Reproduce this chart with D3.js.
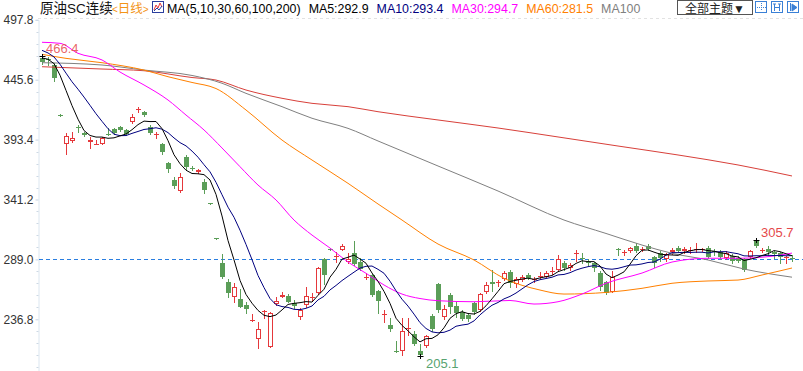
<!DOCTYPE html>
<html>
<head>
<meta charset="utf-8">
<script src="https://cdn.jsdelivr.net/npm/d3@7"></script>
<style>
  body { margin: 0; background: #fff; }
  svg { display: block; font-family: "Liberation Sans", Arial, "Noto Sans CJK SC", sans-serif; }
</style>
</head>
<body>
<svg id="chart" width="803" height="371"></svg>
<script>
// ---- data ----
const yTicks = [497.8, 445.6, 393.4, 341.2, 289.0, 236.8];

// closes before the first visible day (only used to start MA5 / MA10)
const priorCloses = [485, 482, 478, 474, 470, 468, 466, 465, 463];

const opens = [464.8,463.3,458.4,415.2,389.8,391.9,404.3,399.4,391.0,389.4,
  389.8,398.2,402.6,404.6,401.8,409.0,419.5,417.7,404.6,397.8,
  389.3,372.7,358.2,348.6,378.5,369.0,365.5,356.7,338.0,307.7,
  285.6,269.1,256.5,254.5,249.3,235.3,219.4,243.5,212.4,250.0,
  256.3,257.4,251.0,239.1,249.3,255.2,259.4,289.1,298.0,291.0,
  297.2,287.0,294.6,287.0,272.8,275.4,261.5,240.3,231.9,209.2,
  209.1,228.7,223.9,208.9,213.8,239.7,267.5,238.8,257.9,248.7,
  243.4,240.5,250.7,244.9,260.9,269.6,268.3,271.7,278.3,267.6,
  271.1,275.4,271.3,274.3,274.0,278.0,279.8,285.6,281.2,294.1,
  290.3,287.0,285.6,276.9,269.6,260.9,297.7,294.7,296.3,301.0,
  297.5,301.0,291.3,294.3,289.1,295.2,298.7,296.3,297.0,297.8,
  297.0,298.7,296.0,295.7,290.0,292.2,290.5,289.5,291.1,305.5,
  296.3,298.0,295.2,294.3,289.8,289.8];

const highs = [466.4,465.0,460.0,415.5,398.9,399.8,406.5,400.0,395.9,393.0,
  396.0,403.2,403.5,405.5,403.0,415.7,421.8,418.5,406.0,400.3,
  390.5,374.0,361.0,364.0,380.0,370.0,368.0,359.5,338.5,308.0,
  293.5,271.7,268.2,263.0,251.6,241.2,234.7,245.0,243.4,256.5,
  261.0,259.0,254.0,246.9,264.7,259.4,282.0,290.0,298.5,295.7,
  302.4,294.3,305.3,290.0,276.9,276.0,262.5,244.9,237.7,217.6,
  237.7,237.7,226.5,215.2,223.5,241.0,268.5,249.3,259.5,251.5,
  245.0,242.0,252.0,260.0,269.6,279.7,271.0,278.5,279.7,273.5,
  275.0,277.5,274.0,278.0,279.0,282.0,292.5,288.0,286.0,297.5,
  294.5,289.0,287.0,279.0,270.5,279.0,299.2,297.0,300.0,303.0,
  300.0,302.0,292.0,296.0,295.0,298.5,300.5,299.5,299.5,303.0,
  299.0,300.5,298.0,297.0,296.0,293.5,292.0,290.0,297.5,305.7,
  298.5,301.0,296.5,295.5,292.0,292.5];

const lows = [459.0,458.5,444.5,414.0,380.6,391.5,400.0,396.5,386.3,389.4,
  389.5,397.8,398.0,400.5,397.0,408.0,417.7,414.0,398.5,395.0,
  381.0,365.5,351.0,348.0,367.5,366.5,364.0,347.0,337.0,306.5,
  273.0,256.5,251.6,247.5,242.0,235.3,212.0,237.5,212.4,249.5,
  256.0,251.5,246.5,236.9,247.8,253.6,259.0,267.6,297.0,287.0,
  297.0,286.0,284.0,280.0,271.9,257.0,242.6,234.7,226.6,208.5,
  205.8,223.0,214.5,205.1,213.0,227.0,243.4,236.8,242.0,238.8,
  236.0,235.5,241.5,244.0,260.0,261.5,265.5,271.0,264.7,265.0,
  270.0,271.5,269.5,273.0,273.5,276.0,279.0,279.5,280.0,288.0,
  286.0,284.5,279.0,262.0,258.5,260.5,293.0,293.0,295.5,295.5,
  296.0,297.0,282.0,288.0,288.0,294.0,295.5,295.0,295.0,295.5,
  296.0,290.0,293.0,289.0,289.0,286.0,286.5,279.0,290.0,299.5,
  295.5,293.0,290.0,286.0,285.5,288.0];

const closes = [460.8,462.5,446.8,414.5,396.8,394.5,403.3,397.4,393.0,389.8,
  394.5,398.0,399.4,401.5,398.0,413.3,420.0,414.8,399.4,398.3,
  382.3,367.8,353.2,360.5,369.8,368.0,366.5,349.5,337.3,307.0,
  274.0,259.5,265.2,247.8,245.8,235.8,228.1,244.0,242.0,252.7,
  258.0,252.1,248.7,244.9,257.4,256.0,281.2,275.4,297.5,291.6,
  300.7,289.1,284.8,280.4,273.4,258.0,252.7,241.0,228.3,208.7,
  226.6,229.3,214.9,206.0,222.5,228.1,244.9,245.5,247.3,242.4,
  237.1,236.8,243.4,258.8,266.7,267.6,269.0,276.9,268.7,271.7,
  273.4,272.5,271.9,274.9,276.9,278.6,289.1,281.2,284.1,294.6,
  289.8,285.6,281.2,265.2,259.5,274.0,296.8,295.2,298.7,296.3,
  298.0,298.1,285.6,290.0,293.4,297.2,296.3,298.1,297.5,298.3,
  298.0,291.4,295.6,290.8,294.3,287.6,287.6,279.8,296.3,300.7,
  297.5,295.5,293.5,291.5,291.5,289.0];

// long moving averages need history outside the window: read at sample days
const ma30Idx = [0,3,6,10,13,17,21,24,27,30,33,36,39,42,45,48,51,54,57,60,63,66,72,78,82,86,90,94,100,105,111,116,122,125];
const ma30Val = [478.2,477.3,468.6,462.8,452.3,441.0,427.9,414.8,401.8,386.1,369.8,353.8,340.8,323.3,310.2,298.9,286.7,276.9,266.7,258.8,254.9,253.0,252.1,253.2,250.1,252.1,258.8,268.2,277.1,286.7,290.0,290.0,292.0,294.5];
const ma60Idx = [0,4,10,17,21,25,29,34,40,45,51,56,60,66,72,77,83,87,94,100,105,111,116,120,125];
const ma60Val = [467.7,464.2,460.4,454.0,448.2,443.2,437.9,419.2,393.0,375.6,355.3,337.3,323.3,302.4,288.5,272.5,262.3,258.8,260.2,263.8,268.2,270.2,271.0,275.4,281.5];
const ma100Idx = [0,10,17,25,30,34,40,45,51,56,66,76,87,94,100,105,111,117,125];
const ma100Val = [460.4,458.4,454.0,449.3,442.5,433.7,422.1,412.0,403.2,392.2,370.4,348.6,323.3,311.6,301.5,294.3,288.5,280.6,273.5];
const ma200Idx = [0,10,17,25,29,34,40,45,51,56,66,76,86,96,106,116,125];
const ma200Val = [456.9,454.9,453.4,447.5,445.3,436.6,429.4,425.0,422.1,417.7,410.5,403.5,395.7,387.8,380.0,371.3,361.7];

const titleText = "原油SC连续";
const periodText = "日线";
const maLegend = [
  {text: "MA(5,10,30,60,100,200)", color: "#000"},
  {text: "MA5:292.9", color: "#000"},
  {text: "MA10:293.4", color: "#00007f"},
  {text: "MA30:294.7", color: "#ff00ff"},
  {text: "MA60:281.5", color: "#ff8000"},
  {text: "MA100", color: "#808080"}
];
const lastPrice = 289.0;
const markHigh = 0, markLow = 63, markRecent = 119;

// ---- setup ----
const svg = d3.select("#chart");
const n = closes.length;
const up = "#e5383b", down = "#5b9e58";
const headFont = "Liberation Sans, Arial, Noto Sans CJK SC, sans-serif";

const x = d3.scaleLinear().domain([0, n - 1]).range([42, 792]);
const y = d3.scaleLinear().domain([184.6, 497.8]).range([379.2, 19.8]);
const px = i => Math.round(x(i)) + 0.5;

svg.append("defs").append("clipPath").attr("id", "plot")
  .append("rect").attr("x", 39).attr("y", 19).attr("width", 764).attr("height", 352);

// top dashed border
svg.append("line")
  .attr("x1", 38).attr("x2", 803).attr("y1", 18.5).attr("y2", 18.5)
  .attr("stroke", "#e2e2e2").attr("stroke-dasharray", "3,3");

// y axis
const axis = svg.append("g")
  .attr("transform", "translate(38.5,0)")
  .call(d3.axisLeft(y).tickValues(yTicks).tickFormat(d3.format(".1f")).tickSize(3).tickPadding(2));
axis.select(".domain").attr("stroke", "#dbe6f0");
axis.selectAll(".tick line").attr("stroke", "#c9d6e3");
axis.selectAll(".tick text").attr("fill", "#333").attr("font-size", 12)
  .attr("font-family", "Liberation Sans, Arial, sans-serif");

// minor ticks
const minor = d3.range(1, 30).map(k => 184.6 + k * 10.44).filter(v => !yTicks.some(t => Math.abs(t - v) < 1));
axis.selectAll(".minor").data(minor).join("line")
  .attr("class", "minor")
  .attr("x1", -2).attr("x2", 0)
  .attr("y1", d => Math.round(y(d)) + 0.5).attr("y2", d => Math.round(y(d)) + 0.5)
  .attr("stroke", "#cdd8e4");

const plot = svg.append("g").attr("clip-path", "url(#plot)");

// last price dashed line
plot.append("line")
  .attr("x1", 39).attr("x2", 803)
  .attr("y1", Math.round(y(lastPrice)) + 0.5).attr("y2", Math.round(y(lastPrice)) + 0.5)
  .attr("stroke", "#2a7ee0").attr("stroke-dasharray", "4,3");

// candles
const data = d3.range(n).map(i => ({i, o: opens[i], h: highs[i], l: lows[i], c: closes[i]}));
const cg = plot.append("g");
data.forEach(d => {
  const cx = px(d.i);
  const isUp = d.c >= d.o;
  const col = isUp ? up : down;
  cg.append("line")
    .attr("x1", cx).attr("x2", cx)
    .attr("y1", Math.round(y(d.h))).attr("y2", Math.round(y(d.l)) + 1)
    .attr("stroke", col);
  const t = Math.round(y(Math.max(d.o, d.c)));
  const b = Math.round(y(Math.min(d.o, d.c)));
  if (isUp) {
    if (b - t >= 2) {
      cg.append("rect")
        .attr("x", cx - 2).attr("y", t + 0.5)
        .attr("width", 4).attr("height", b - t - 1)
        .attr("fill", "#fff").attr("stroke", col);
    } else {
      cg.append("line")
        .attr("x1", cx - 2.5).attr("x2", cx + 2.5)
        .attr("y1", t + 0.5).attr("y2", t + 0.5)
        .attr("stroke", col);
    }
  } else {
    cg.append("rect")
      .attr("x", cx - 2.5).attr("y", t)
      .attr("width", 5).attr("height", Math.max(1, b - t))
      .attr("fill", col);
  }
});

// moving averages
const allCloses = priorCloses.concat(closes);
const movingAvg = p => closes.map((c, i) => {
  const end = i + priorCloses.length + 1;
  return d3.mean(allCloses.slice(end - p, end));
});
const ma5 = movingAvg(5), ma10 = movingAvg(10);

const lineIdx = d3.line().x((d, i) => x(i)).y(d => y(d));
const lineSampled = d3.line().x(d => x(d[0])).y(d => y(d[1])).curve(d3.curveMonotoneX);
const zipped = (a, b) => a.map((v, k) => [v, b[k]]);

const maLines = [
  {d: lineSampled(zipped(ma200Idx, ma200Val)), color: "#d8403a"},
  {d: lineSampled(zipped(ma100Idx, ma100Val)), color: "#808080"},
  {d: lineSampled(zipped(ma60Idx, ma60Val)), color: "#ff8000"},
  {d: lineSampled(zipped(ma30Idx, ma30Val)), color: "#ff00ff"},
  {d: lineIdx(ma10), color: "#00007f"},
  {d: lineIdx(ma5), color: "#000"}
];
plot.selectAll(".ma").data(maLines).join("path")
  .attr("class", "ma")
  .attr("d", d => d.d)
  .attr("fill", "none")
  .attr("stroke", d => d.color)
  .attr("stroke-width", 1);

// extreme markers and labels
const cross = (i, v) => {
  const cx = px(i), cy = Math.round(y(v)) + 0.5;
  plot.append("path")
    .attr("d", `M${cx - 3},${cy}H${cx + 3}M${cx},${cy - 2.5}V${cy + 2.5}`)
    .attr("stroke", "#000");
};
cross(markHigh, highs[markHigh]);
cross(markLow, lows[markLow]);
cross(markRecent, highs[markRecent]);

const fmt = d3.format(".1f");
svg.append("text")
  .attr("x", x(markHigh) + 4).attr("y", y(highs[markHigh]) - 3)
  .attr("font-size", 13).attr("fill", "#e5484a").attr("fill-opacity", 0.85)
  .text(fmt(highs[markHigh]));
svg.append("text")
  .attr("x", x(markLow) + 6).attr("y", y(lows[markLow]) + 12)
  .attr("font-size", 13).attr("fill", "#58a36f")
  .text(fmt(lows[markLow]));
svg.append("text")
  .attr("x", x(markRecent) + 5).attr("y", y(highs[markRecent]) - 3)
  .attr("font-size", 13).attr("fill", "#e5484a")
  .text(fmt(highs[markRecent]));

// ---- header ----
const head = svg.append("g").attr("font-family", headFont);
head.append("text")
  .attr("x", 40).attr("y", 13)
  .attr("font-size", 13.5).attr("fill", "#111")
  .text(titleText);
const per = head.append("text")
  .attr("x", 112).attr("y", 13)
  .attr("fill", "#f39418");
per.append("tspan").attr("font-size", 10).text("<");
per.append("tspan").attr("font-size", 12.5).text(periodText);
per.append("tspan").attr("font-size", 10).text(">");

// small indicator icon
head.append("rect").attr("x", 152.5).attr("y", 1.5).attr("width", 11).attr("height", 11)
  .attr("fill", "#fff").attr("stroke", "#2b3f9e");
head.append("path").attr("d", "M154,10L156,5L158,8L160,3L162,7")
  .attr("fill", "none").attr("stroke", "#e5383b");
head.append("path").attr("d", "M154,11L157,8L159,10L162,6")
  .attr("fill", "none").attr("stroke", "#2b3f9e");

let lx = 167;
maLegend.forEach(m => {
  const t = head.append("text")
    .attr("x", lx).attr("y", 13)
    .attr("font-size", 12.4).attr("fill", m.color)
    .text(m.text);
  lx += t.node().getComputedTextLength() + 8;
});

// theme button
head.append("rect").attr("x", 677.5).attr("y", 0.5).attr("width", 75).attr("height", 14)
  .attr("fill", "#fff").attr("stroke", "#555");
head.append("text").attr("x", 715).attr("y", 12.5).attr("text-anchor", "middle")
  .attr("font-size", 12).attr("fill", "#222")
  .text("全部主题▼");

// tool icons
const icons = [755, 771, 787];
icons.forEach((ix, k) => {
  head.append("rect").attr("x", ix + 0.5).attr("y", 1.5).attr("width", 11).attr("height", 11)
    .attr("fill", "#fff").attr("stroke", "#3a80d6");
  let d;
  if (k === 0) d = `M${ix + 6.5},3V11M${ix + 2},7.5H${ix + 11}`;
  else if (k === 1) d = `M${ix + 3.5},4V11M${ix + 8.5},4V11M${ix + 3},7.5H${ix + 9}M${ix + 2},4H${ix + 5}M${ix + 7},4H${ix + 10}`;
  else d = `M${ix + 3.5},3V11M${ix + 5},4L${ix + 10},7.5L${ix + 5},11Z`;
  head.append("path").attr("d", d).attr("fill", k === 2 ? "#3a80d6" : "none")
    .attr("stroke", "#3a80d6").attr("stroke-dasharray", k === 0 ? "1,1" : null);
});
</script>
</body>
</html>
